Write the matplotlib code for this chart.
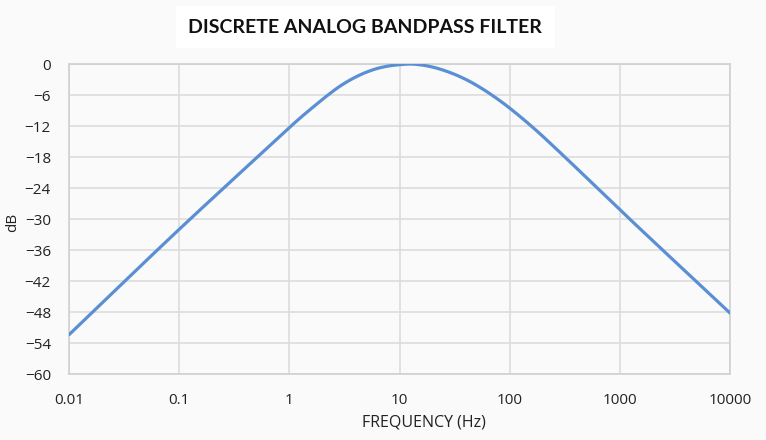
import numpy as np
import matplotlib
matplotlib.use("Agg")
import matplotlib.pyplot as plt

# frequency response
freq_hz = [0.01, 0.1, 0.44, 1, 1.26, 1.65, 2.21, 2.9, 3.81, 5.11, 6.71, 8.8,
           12.6, 15.5, 20.3, 29, 41, 58, 82.5, 100, 166, 270, 1000, 10000]
gain_db = [-52.4, -32.0, -19.3, -12.3, -10.4, -8.3, -6.1, -4.25, -2.75, -1.5,
           -0.7, -0.25, 0.0, -0.16, -0.63, -1.68, -3.1, -4.95, -7.18, -8.53,
           -12.45, -16.6, -28.2, -48.2]

x_ticks = [0.01, 0.1, 1, 10, 100, 1000, 10000]
x_tick_labels = ["0.01", "0.1", "1", "10", "100", "1000", "10000"]
y_ticks = list(range(-60, 1, 6))


def pchip(xs, ys, n=30):
    # shape-preserving cubic through the read points
    xs = np.asarray(xs, float)
    ys = np.asarray(ys, float)
    h = np.diff(xs)
    d = np.diff(ys) / h
    m = np.zeros_like(ys)
    m[0], m[-1] = d[0], d[-1]
    for k in range(1, len(xs) - 1):
        if d[k - 1] * d[k] <= 0:
            m[k] = 0.0
        else:
            w1 = 2 * h[k] + h[k - 1]
            w2 = h[k] + 2 * h[k - 1]
            m[k] = (w1 + w2) / (w1 / d[k - 1] + w2 / d[k])
    out_x, out_y = [], []
    for i in range(len(xs) - 1):
        t = np.linspace(0, 1, n, endpoint=False)
        h00 = 2 * t**3 - 3 * t**2 + 1
        h10 = t**3 - 2 * t**2 + t
        h01 = -2 * t**3 + 3 * t**2
        h11 = t**3 - t**2
        out_x.append(xs[i] + t * h[i])
        out_y.append(h00 * ys[i] + h10 * h[i] * m[i] + h01 * ys[i + 1] + h11 * h[i] * m[i + 1])
    out_x.append([xs[-1]])
    out_y.append([ys[-1]])
    return np.concatenate(out_x), np.concatenate(out_y)


bg = "#fafafa"
plt.rcParams['font.family'] = ['Open Sans', 'DejaVu Sans']

fig = plt.figure(figsize=(7.66, 4.4), dpi=100, facecolor=bg)
ax = fig.add_axes([0.0901, 0.15, 0.8629, 0.7045], facecolor=bg)

lx, ly = pchip(np.log10(freq_hz), gain_db)
ax.plot(10 ** lx, ly, color="#5b8fd3", lw=2.3, solid_capstyle="round", zorder=3)

ax.set_xscale("log")
ax.set_xlim(0.01, 10000)
ax.set_ylim(-60, 0)
ax.set_xticks(x_ticks)
ax.set_xticklabels(x_tick_labels)
ax.minorticks_off()
ax.set_yticks(y_ticks)
ax.grid(True, color="#dcdcdc", lw=1.2)
ax.tick_params(length=0, labelsize=11, colors="#222222")
ax.tick_params(axis="x", pad=14)
ax.tick_params(axis="y", pad=13)
for s in ax.spines.values():
    s.set_color("#d0d0d0")
    s.set_linewidth(1.2)

fig.text(0.553, 0.04, "FREQUENCY (Hz)", ha="center", va="center",
         fontsize=11.5, color="#222222")
fig.text(0.016, 0.495, "dB", rotation=90, ha="center", va="center",
         fontsize=11, color="#222222")
fig.text(0.477, 0.938, "DISCRETE ANALOG BANDPASS FILTER", ha="center",
         va="center", fontsize=14, fontweight="bold", family="Lato",
         color="#111111",
         bbox=dict(facecolor="white", edgecolor="none", pad=9))

fig.savefig("out.png", dpi=100, facecolor=bg)
